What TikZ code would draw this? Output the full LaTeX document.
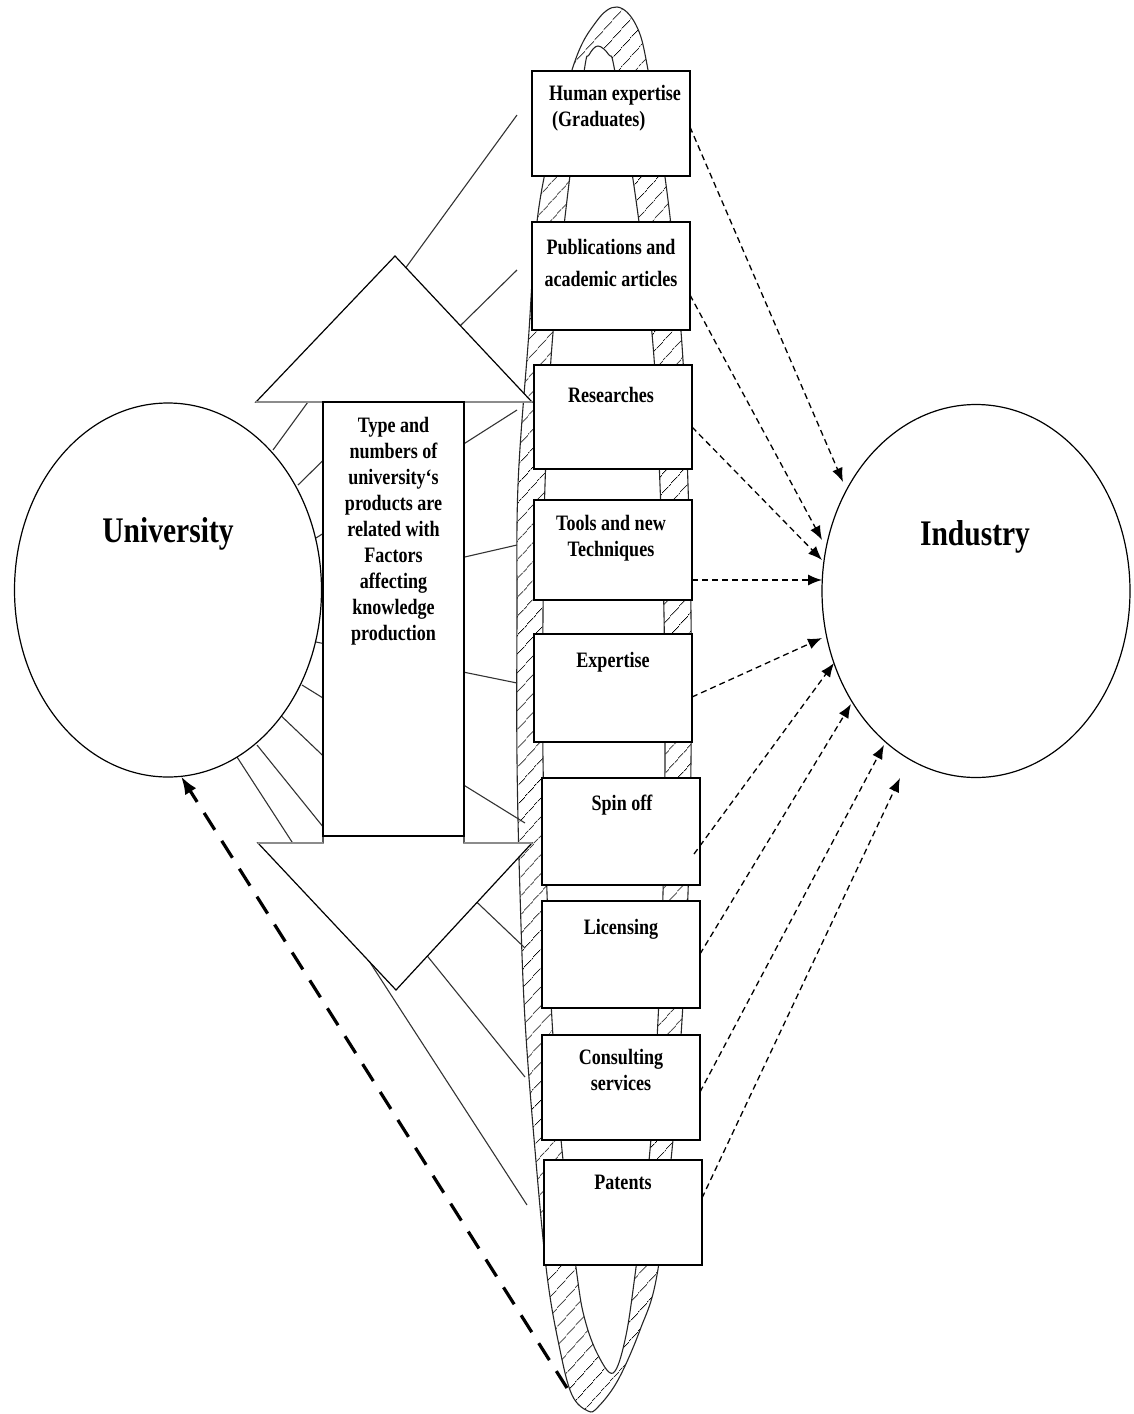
\documentclass[tikz,border=0pt]{standalone}
\usepackage{fontspec}
\setmainfont{Liberation Serif}
\newfontfamily\condfont[FakeStretch=0.82]{Liberation Serif}
\usetikzlibrary{shapes.geometric,arrows.meta,patterns.meta,calc}
\begin{document}
\begin{tikzpicture}[x=1pt,y=-1pt,
  party/.style={draw,ellipse,line width=1.2pt,fill=white,minimum width=307pt,minimum height=374pt,inner sep=0pt,outer sep=0pt},
  bigtext/.style={font=\condfont\bfseries\fontsize{36}{40}\selectfont,inner sep=0pt,anchor=base},
  outbox/.style={draw,line width=1.4pt,fill=white,rectangle,inner sep=0pt,outer sep=0pt,minimum width=158pt,anchor=north west},
  boxtext/.style={font=\condfont\bfseries\fontsize{22}{26}\selectfont,align=center,inner sep=0pt,anchor=north},
  ray/.style={line width=1.1pt,black!80},
  ringline/.style={line width=1.1pt,black!85},
  flow/.style={line width=1.3pt,dash pattern=on 6pt off 4pt,-{Latex[length=14pt,width=11pt]}},
  feedback/.style={line width=3.2pt,dash pattern=on 20pt off 13pt,-{Latex[length=18pt,width=13pt]}},
]
\useasboundingbox (0,0) rectangle (1133,1414);

% hatched ring behind the column of outputs
\draw[ringline,even odd rule,pattern={Lines[angle=48,distance=13pt,line width=0.8pt]}]
  plot[smooth cycle,tension=0.6] coordinates {
    (617,7) (636,25) (648,70) (668,200) (682,345) (688,485) (691,615) (691,760)
    (688,893) (682,1020) (672,1150) (657,1275) (640,1330) (618,1380) (598,1407)
    (588,1411) (572,1395) (560,1350) (547,1275) (535,1150) (525,1020) (520,893)
    (517,760) (517,615) (518,485) (528,345) (540,200) (572,70) (596,22)}
  plot[smooth cycle,tension=0.6] coordinates {
    (598,46) (609,55) (615,72) (636,200) (653,345) (660,485) (664,615) (665,760)
    (663,893) (658,1020) (650,1150) (635,1275) (625,1340) (613,1373) (598,1355)
    (585,1320) (577,1275) (562,1150) (552,1020) (547,893) (543,760) (543,615)
    (545,485) (552,345) (567,200) (584,72) (589,55)};

% fan of lines between the university and the ring
\draw[ray] (273,450) -- (517,115);
\draw[ray] (298,485) -- (517,270);
\draw[ray] (316,538) -- (517,410);
\draw[ray] (321,590) -- (517,545);
\draw[ray] (316,642) -- (517,683);
\draw[ray] (302,685) -- (525,823);
\draw[ray] (275,710) -- (525,948);
\draw[ray] (257,745) -- (525,1077);
\draw[ray] (237,757) -- (527,1205);

% double-headed block arrow
\draw[line width=1.2pt,fill=white,line join=miter]
  (323,402) -- (256,402) -- (395,256) -- (532,402) -- (464,402) -- (464,843)
  -- (532,843) -- (396,990) -- (258,843) -- (323,843) -- cycle;
\draw[line width=2.2pt,black!45] (256,402) -- (532,402);
\draw[line width=2pt,black!45] (258,843) -- (323,843) (464,843) -- (532,843);
\node[draw,line width=1.3pt,fill=white,rectangle,inner sep=0pt,outer sep=0pt,
      minimum width=141pt,minimum height=434pt,anchor=north west] (shaft) at (323,402) {};
\node[boxtext] (shafttext) at ($(shaft.north)+(0,15)$)
  {Type and\\numbers of\\university‘s\\products are\\related with\\Factors\\affecting\\knowledge\\production};

% outputs of the university
\node[outbox,minimum height=105pt] (b1) at (532,71) {};
\node[outbox,minimum height=108pt] (b2) at (532,222) {};
\node[outbox,minimum height=104pt] (b3) at (534,365) {};
\node[outbox,minimum height=100pt] (b4) at (534,500) {};
\node[outbox,minimum height=108pt] (b5) at (534,634) {};
\node[outbox,minimum height=107pt] (b6) at (542,778) {};
\node[outbox,minimum height=107pt] (b7) at (542,901) {};
\node[outbox,minimum height=105pt] (b8) at (542,1035) {};
\node[outbox,minimum height=105pt] (b9) at (544,1160) {};

\node[boxtext,align=left,anchor=north west] (b1t) at ($(b1.north west)+(17,14)$)
  {Human expertise\\\hspace*{3pt}(Graduates)};
\node[boxtext,font=\condfont\bfseries\fontsize{22}{32}\selectfont] (b2t) at ($(b2.north)+(0,17)$)
  {Publications and\\academic articles};
\node[boxtext] (b3t) at ($(b3.north)+(-2,22)$) {Researches};
\node[boxtext] (b4t) at ($(b4.north)+(-2,15)$) {Tools and new\\Techniques};
\node[boxtext] (b5t) at ($(b5.north)+(0,18)$) {Expertise};
\node[boxtext] (b6t) at ($(b6.north)+(1,17)$) {Spin off};
\node[boxtext] (b7t) at ($(b7.north)+(0,18)$) {Licensing};
\node[boxtext] (b8t) at ($(b8.north)+(0,14)$) {Consulting\\services};
\node[boxtext] (b9t) at ($(b9.north)+(0,15)$) {Patents};

% the two partners
\node[party] (uni) at (168,590) {};
\node[party,minimum width=308pt,minimum height=373pt] (ind) at (976,591) {};
\node[bigtext] (unilabel) at (168,542) {University};
\node[bigtext] (indlabel) at (975,545) {Industry};

% flows towards industry
\coordinate (t1) at (843,482);
\coordinate (t2) at (822,540);
\coordinate (t3) at (822,560);
\coordinate (t4) at (822,580);
\coordinate (t5) at (822,638);
\coordinate (t6) at (834,663);
\coordinate (t7) at (851,704);
\coordinate (t8) at (884,745);
\coordinate (t9) at (900,778);
\draw[flow] ($(b1.north east)+(0,56)$) -- (t1);
\draw[flow] ($(b2.north east)+(0,73)$) -- (t2);
\draw[flow] ($(b3.north east)+(0,62)$) -- (t3);
\draw[flow] ($(b4.north east)+(0,80)$) -- (t4);
\draw[flow] ($(b5.north east)+(0,63)$) -- (t5);
\draw[flow] ($(b6.north east)+(-6,76)$) -- (t6);
\draw[flow] ($(b7.north east)+(0,53)$) -- (t7);
\draw[flow] ($(b8.north east)+(0,57)$) -- (t8);
\draw[flow] ($(b9.north east)+(0,38)$) -- (t9);

% feedback from the bottom of the ring to the university
\coordinate (ringfoot) at (567,1388);
\draw[feedback] (ringfoot) -- (uni.-86);
\end{tikzpicture}
\end{document}
